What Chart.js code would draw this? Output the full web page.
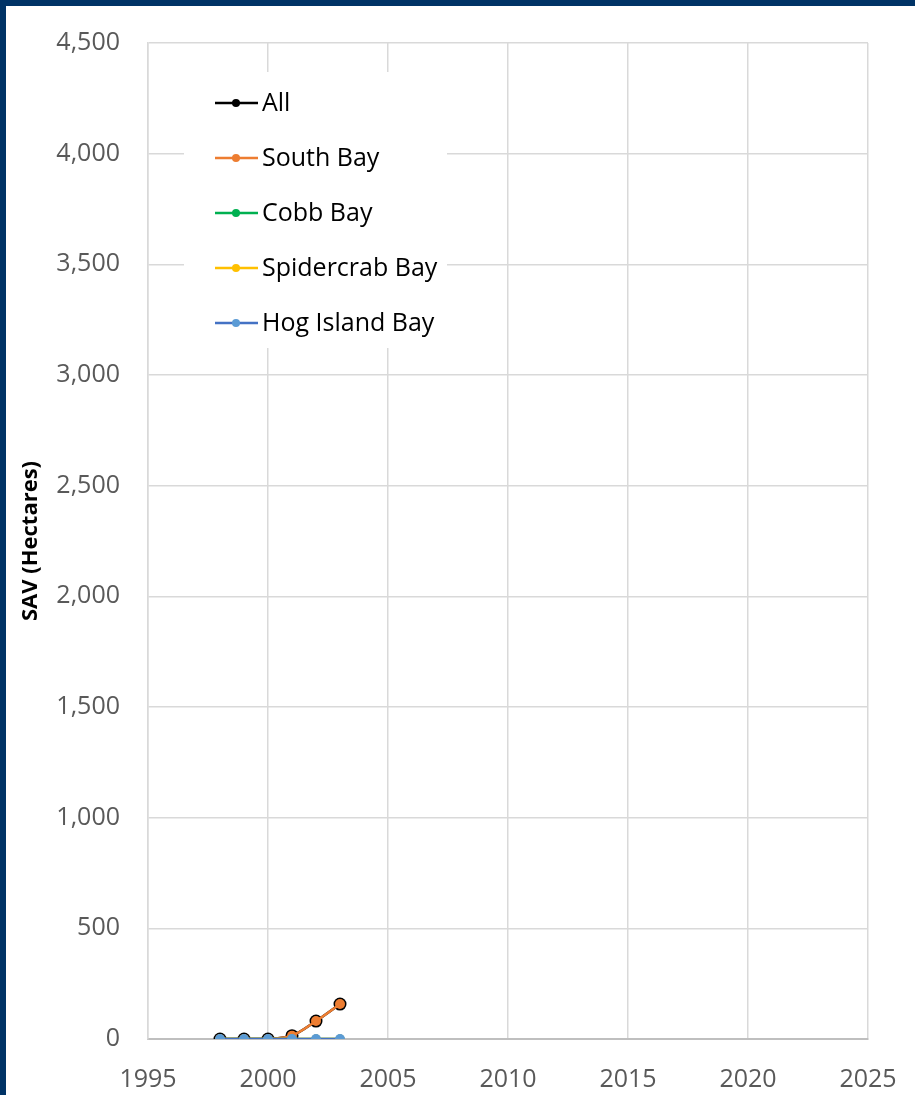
<!DOCTYPE html>
<html>
<head>
<meta charset="utf-8">
<title>SAV (Hectares)</title>
<script src="https://cdn.jsdelivr.net/npm/chart.js@4.4.1/dist/chart.umd.min.js"></script>
<style>
    html, body {
        margin: 0;
        padding: 0;
        background: #ffffff;
    }
    .frame {
        width: 909px;
        height: 1089px;
        border-top: 6px solid #003366;
        border-left: 6px solid #003366;
        background: #ffffff;
    }
    #savChart {
        display: block;
    }
</style>
</head>
<body>
<div class="frame">
    <canvas id="savChart" width="909" height="1089"></canvas>
</div>
<script>
const years = [1998, 1999, 2000, 2001, 2002, 2003];
const allBays = [0, 0, 0, 15, 81, 158];
const southBay = [0, 0, 0, 15, 81, 158];
const cobbBay = [0, 0, 0, 0, 0, 0];
const spidercrabBay = [0, 0, 0, 0, 0, 0];
const hogIslandBay = [0, 0, 0, 0, 0, 0];
const xTicks = [1995, 2000, 2005, 2010, 2015, 2020, 2025];
const yTicks = [0, 500, 1000, 1500, 2000, 2500, 3000, 3500, 4000, 4500];

const tickFont = "'Open Sans', sans-serif";
const gridColor = "#d9d9d9";

function toPoints(values) {
    return years.map(function (yr, i) {
        return { x: yr, y: values[i] };
    });
}

function series(label, values, lineColor, dotColor, radius, order) {
    return {
        label: label,
        data: toPoints(values),
        borderColor: lineColor,
        backgroundColor: dotColor,
        pointBackgroundColor: dotColor,
        pointBorderColor: dotColor,
        pointBorderWidth: 0,
        pointRadius: radius,
        borderWidth: 2.5,
        tension: 0.3,
        order: order,
        legendDot: dotColor,
    };
}

// legend box drawn inside the plot, on top of the grid
const insideLegend = {
    id: "insideLegend",
    beforeDatasetsDraw: function (chart) {
        const ctx = chart.ctx;
        ctx.save();
        ctx.fillStyle = "#ffffff";
        ctx.fillRect(178, 66, 263, 276);
        ctx.font = "25px 'Open Sans', sans-serif";
        ctx.textBaseline = "middle";
        chart.data.datasets.forEach(function (ds, i) {
            const y = 97 + i * 55;
            ctx.strokeStyle = ds.borderColor;
            ctx.lineWidth = 2.5;
            ctx.beginPath();
            ctx.moveTo(209, y);
            ctx.lineTo(252, y);
            ctx.stroke();
            ctx.fillStyle = ds.legendDot;
            ctx.beginPath();
            ctx.arc(230, y, 4, 0, Math.PI * 2);
            ctx.fill();
            ctx.fillStyle = "#000000";
            ctx.fillText(ds.label, 256, y + 1);
        });
        ctx.restore();
    },
};

const chartConfig = new Chart(document.getElementById("savChart"), {
    type: "line",
    data: {
        datasets: [
            series("All", allBays, "#000000", "#000000", 6.5, 5),
            series("South Bay", southBay, "#ED7D31", "#ED7D31", 5, 4),
            series("Cobb Bay", cobbBay, "#00B050", "#00B050", 4.5, 3),
            series("Spidercrab Bay", spidercrabBay, "#FFC000", "#FFC000", 4.5, 2),
            series("Hog Island Bay", hogIslandBay, "#4472C4", "#5B9BD5", 5, 1),
        ],
    },
    options: {
        responsive: false,
        animation: false,
        layout: {
            padding: { top: 37, right: 47, bottom: 0, left: 0 },
        },
        plugins: {
            legend: { display: false },
            tooltip: { enabled: false },
        },
        scales: {
            x: {
                type: "linear",
                min: xTicks[0],
                max: xTicks[xTicks.length - 1],
                afterBuildTicks: function (scale) {
                    scale.ticks = xTicks.map(function (v) { return { value: v }; });
                },
                afterFit: function (scale) {
                    scale.height = 56;
                },
                grid: {
                    color: gridColor,
                    lineWidth: 1.5,
                    tickLength: 26,
                    tickColor: "rgba(0,0,0,0)",
                },
                border: { color: "#bfbfbf", width: 2 },
                ticks: {
                    padding: 0,
                    color: "#595959",
                    font: { family: tickFont, size: 25 },
                    callback: function (v) { return String(v); },
                },
            },
            y: {
                min: yTicks[0],
                max: yTicks[yTicks.length - 1],
                afterBuildTicks: function (scale) {
                    scale.ticks = yTicks.map(function (v) { return { value: v }; });
                },
                afterFit: function (scale) {
                    scale.width = 142;
                },
                grid: {
                    color: gridColor,
                    lineWidth: 1.5,
                    tickLength: 28,
                    tickColor: "rgba(0,0,0,0)",
                },
                border: { color: gridColor, width: 1.5 },
                ticks: {
                    padding: 0,
                    color: "#595959",
                    font: { family: tickFont, size: 25 },
                    callback: function (v) { return v.toLocaleString("en-US"); },
                },
                title: {
                    display: true,
                    text: "SAV (Hectares)",
                    color: "#000000",
                    font: { family: tickFont, size: 22, weight: "bold" },
                    padding: { top: 12, bottom: 0 },
                },
            },
        },
    },
    plugins: [insideLegend],
});
</script>
</body>
</html>
